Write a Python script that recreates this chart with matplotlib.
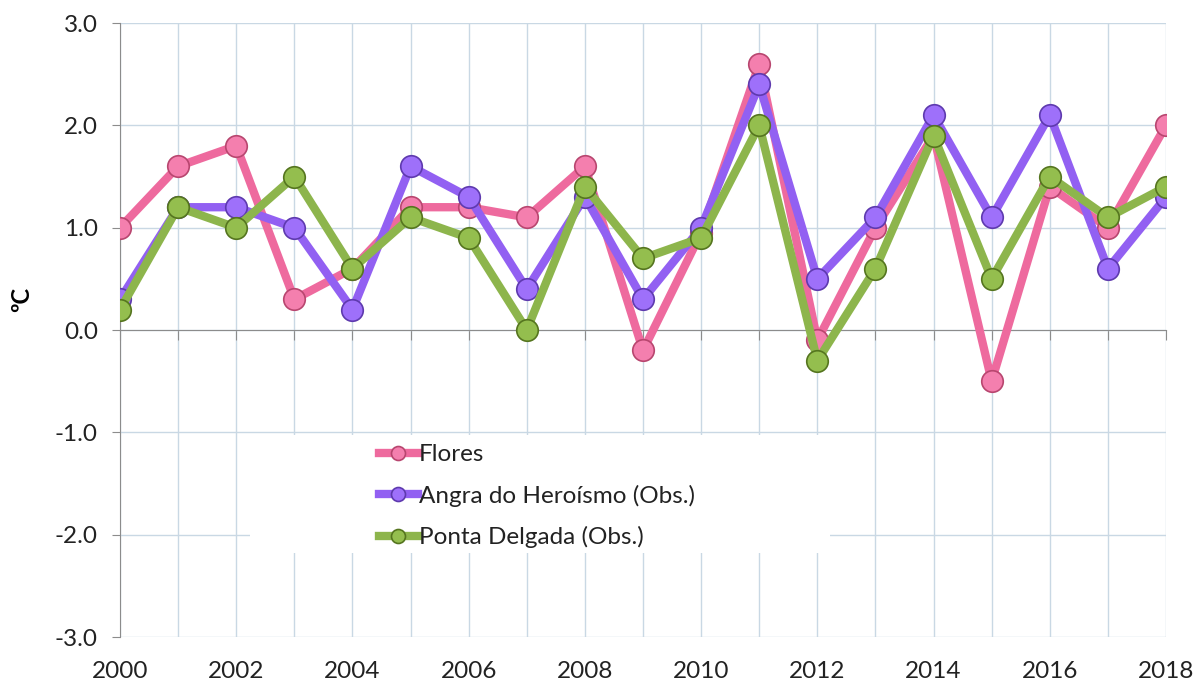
import matplotlib
matplotlib.use("Agg")
import matplotlib.pyplot as plt
from matplotlib.patches import Rectangle
from matplotlib.ticker import FormatStrFormatter

years = list(range(2000, 2019))
flores = [1.0, 1.6, 1.8, 0.3, 0.6, 1.2, 1.2, 1.1, 1.6, -0.2,
          0.95, 2.6, -0.1, 1.0, 1.9, -0.5, 1.4, 1.0, 2.0]
angra = [0.3, 1.2, 1.2, 1.0, 0.2, 1.6, 1.3, 0.4, 1.3, 0.3,
         1.0, 2.4, 0.5, 1.1, 2.1, 1.1, 2.1, 0.6, 1.3]
ponta = [0.2, 1.2, 1.0, 1.5, 0.6, 1.1, 0.9, 0.0, 1.4, 0.7,
         0.9, 2.0, -0.3, 0.6, 1.9, 0.5, 1.5, 1.1, 1.4]
labels = ['Flores', 'Angra do Heroísmo (Obs.)', 'Ponta Delgada (Obs.)']
line_colors = ['#EE6A9E', '#9260F2', '#8DB54C']
face_colors = ['#F47FAE', '#9E70FA', '#94BE4E']
edge_colors = ['#B8466F', '#5E3AAE', '#55751F']

plt.rcParams['font.family'] = ['Lato', 'DejaVu Sans']
plt.rcParams['axes.unicode_minus'] = False

fig = plt.figure(figsize=(11.98, 6.81), dpi=100)
ax = fig.add_axes([0.1002, 0.0646, 0.8731, 0.9016])
ax.set_axisbelow(True)

for vals, lab, lc, fc, ec in zip([flores, angra, ponta], labels,
                                 line_colors, face_colors, edge_colors):
    ax.plot(years, vals, color=lc, lw=6, marker='o', ms=15.5,
            mfc=fc, mec=ec, mew=1.2, label=lab, zorder=3,
            solid_joinstyle='round')

ax.set_xlim(2000, 2018)
ax.set_ylim(-3, 3)
ax.set_xticks(years)
ax.set_yticks([-3, -2, -1, 0, 1, 2, 3])
ax.yaxis.set_major_formatter(FormatStrFormatter('%.1f'))
ax.grid(True, color='#C9D8E4', lw=1.0)

for s in ['top', 'right']:
    ax.spines[s].set_visible(False)
ax.spines['left'].set_color('#8C8C8C')
ax.spines['bottom'].set_position(('data', 0))
ax.spines['bottom'].set_color('#8C8C8C')
ax.tick_params(axis='x', direction='out', length=7, color='#8C8C8C',
               labelbottom=False)
ax.tick_params(axis='y', direction='out', length=6, color='#8C8C8C',
               labelsize=17.5, pad=10, labelcolor='#222222')

sec = ax.secondary_xaxis(0.0)
sec.set_xticks(years[::2])
sec.tick_params(length=0, labelsize=17.5, pad=17, labelcolor='#222222')
sec.spines['bottom'].set_visible(False)

ax.set_ylabel('ºC', fontsize=17, fontweight='bold')
ax.yaxis.set_label_coords(-0.083, 0.55)

# white box behind the legend
ax.add_patch(Rectangle((0.124, 0.137), 0.555, 0.192, transform=ax.transAxes,
                       facecolor='white', edgecolor='none', zorder=1))

ax.legend(loc='upper left', bbox_to_anchor=(0.2476, 0.314), frameon=False,
          fontsize=17.5, handlelength=1.6, handletextpad=0.05,
          labelspacing=0.8, borderpad=0, borderaxespad=0, markerscale=0.65,
          labelcolor='#222222')

fig.savefig('out.png', dpi=100)
